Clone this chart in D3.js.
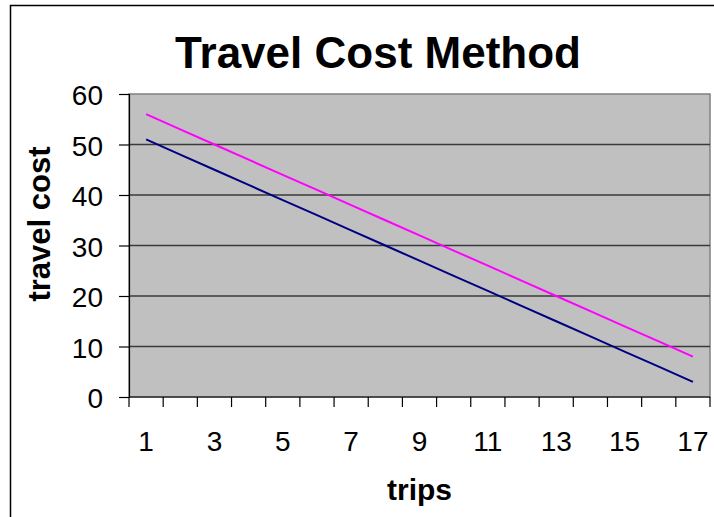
<!DOCTYPE html>
<html>
<head>
<meta charset="utf-8">
<script src="https://cdn.jsdelivr.net/npm/d3@7"></script>
<style>
  body { margin: 0; background: #fff; }
  text { font-family: "Liberation Sans", Arial, sans-serif; fill: #000; }
</style>
</head>
<body>
<div id="chart"></div>
<script>
// trips 1..17 and the two travel cost series
const trips = [1, 2, 3, 4, 5, 6, 7, 8, 9, 10, 11, 12, 13, 14, 15, 16, 17];
const costLow = [51, 48, 45, 42, 39, 36, 33, 30, 27, 24, 21, 18, 15, 12, 9, 6, 3];
const costHigh = [56, 53, 50, 47, 44, 41, 38, 35, 32, 29, 26, 23, 20, 17, 14, 11, 8];
const yTicks = [0, 10, 20, 30, 40, 50, 60];
const xLabels = [1, 3, 5, 7, 9, 11, 13, 15, 17];

const width = 714, height = 517;
const margin = { top: 94, right: 4, bottom: 120, left: 129 };
const plotW = width - margin.left - margin.right;
const plotH = height - margin.top - margin.bottom;

const svg = d3.select("#chart").append("svg")
  .attr("width", width)
  .attr("height", height);

// chart frame (runs off the right and bottom edges)
svg.append("rect")
  .attr("x", 10.5).attr("y", 5.5)
  .attr("width", 730).attr("height", 530)
  .attr("fill", "#fff").attr("stroke", "#000").attr("stroke-width", 1.5);

const x = d3.scaleBand().domain(trips).range([0, plotW]);
const y = d3.scaleLinear().domain([0, 60]).range([plotH, 0]);

const g = svg.append("g").attr("transform", `translate(${margin.left},${margin.top})`);

// plot area
g.append("rect")
  .attr("width", plotW).attr("height", plotH)
  .attr("fill", "#c0c0c0").attr("stroke", "#808080").attr("stroke-width", 1.5);

// gridlines
g.append("g")
  .selectAll("line")
  .data(yTicks.filter(d => d > 0 && d < 60))
  .join("line")
  .attr("x1", 0).attr("x2", plotW)
  .attr("y1", d => y(d)).attr("y2", d => y(d))
  .attr("stroke", "#3a3a3a").attr("stroke-width", 1.5);

// y axis
const yAxis = g.append("g")
  .call(d3.axisLeft(y).tickValues(yTicks).tickSize(10).tickPadding(16));
yAxis.selectAll("path, line").attr("stroke", "#000").attr("stroke-width", 1.2);
yAxis.selectAll("text").style("font-size", "28px").attr("dy", "0.38em");

// x axis: ticks on category boundaries, labels on every other category
const bounds = d3.range(trips.length + 1).map(i => i * x.step());
const xAxis = g.append("g").attr("transform", `translate(0,${plotH})`);
xAxis.append("line")
  .attr("x1", 0).attr("x2", plotW)
  .attr("stroke", "#000").attr("stroke-width", 1.2);
xAxis.selectAll("line.tick")
  .data(bounds)
  .join("line")
  .attr("class", "tick")
  .attr("x1", d => d).attr("x2", d => d)
  .attr("y1", 0).attr("y2", 10)
  .attr("stroke", "#000").attr("stroke-width", 1.2);
xAxis.selectAll("text")
  .data(xLabels)
  .join("text")
  .attr("x", d => x(d) + x.bandwidth() / 2)
  .attr("y", 54)
  .attr("text-anchor", "middle")
  .style("font-size", "28px")
  .text(d => d);

// series lines
const line = d3.line()
  .x((d, i) => x(trips[i]) + x.bandwidth() / 2)
  .y(d => y(d));

g.append("path").datum(costLow)
  .attr("d", line).attr("fill", "none")
  .attr("stroke", "#000080").attr("stroke-width", 2);
g.append("path").datum(costHigh)
  .attr("d", line).attr("fill", "none")
  .attr("stroke", "#ff00ff").attr("stroke-width", 2);

// titles
svg.append("text")
  .attr("x", 378).attr("y", 68)
  .attr("text-anchor", "middle")
  .style("font-size", "44px").style("font-weight", "bold")
  .text("Travel Cost Method");

svg.append("text")
  .attr("x", margin.left + plotW / 2).attr("y", 500)
  .attr("text-anchor", "middle")
  .style("font-size", "30px").style("font-weight", "bold")
  .text("trips");

svg.append("text")
  .attr("transform", "translate(50,224) rotate(-90)")
  .attr("text-anchor", "middle")
  .style("font-size", "31px").style("font-weight", "bold")
  .text("travel cost");
</script>
</body>
</html>
